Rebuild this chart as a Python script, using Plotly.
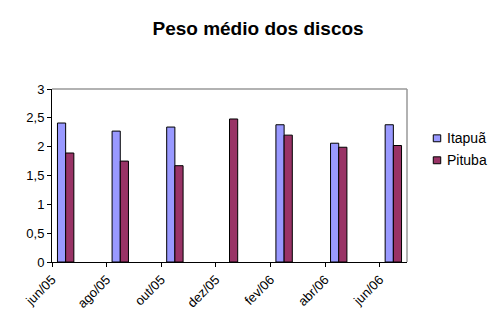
import plotly.graph_objects as go

# Bimonthly sampling dates (monthly date axis, one slot per month)
meses = ["jun/05", "ago/05", "out/05", "dez/05", "fev/06", "abr/06", "jun/06"]
itapua = [2.41, 2.27, 2.34, None, 2.38, 2.06, 2.38]
pituba = [1.89, 1.75, 1.67, 2.48, 2.20, 1.99, 2.02]
series_names = ["Itapuã", "Pituba"]
series_colors = ["#9999FF", "#993366"]
y_ticks = [0, 0.5, 1, 1.5, 2, 2.5, 3]

# every sample sits in the first month slot of its two-month interval
slot = [2 * i for i in range(len(meses))]
bar_w = 0.30

FONT = "Liberation Sans, Arial, sans-serif"

fig = go.Figure()
for name, vals, color, off in zip(series_names, [itapua, pituba], series_colors, [-bar_w, 0.0]):
    fig.add_trace(go.Bar(
        x=slot, y=vals, name=name, width=bar_w, offset=off,
        marker=dict(color=color, line=dict(color="black", width=1)),
        showlegend=False,
    ))

# legend drawn as small swatches with labels
for k, (name, color) in enumerate(zip(series_names, series_colors)):
    y0 = 0.695 - k * 0.127
    fig.add_shape(type="rect", xref="paper", yref="paper",
                  x0=1.074, x1=1.095, y0=y0, y1=y0 + 0.04,
                  fillcolor=color, line=dict(color="black", width=1))
    fig.add_annotation(xref="paper", yref="paper", x=1.106, y=y0 + 0.02,
                       text=name, showarrow=False, xanchor="left", yanchor="middle",
                       font=dict(family=FONT, size=14, color="black"))

# plot-area frame on top and right
fig.add_shape(type="line", xref="paper", yref="paper", x0=0, x1=1, y0=1, y1=1,
              line=dict(color="#999999", width=1.5))
fig.add_shape(type="line", xref="paper", yref="paper", x0=1, x1=1, y0=0, y1=1,
              line=dict(color="#999999", width=1.5))

fig.update_layout(
    width=504, height=333,
    margin=dict(l=52, r=97, t=89, b=71),
    paper_bgcolor="white", plot_bgcolor="white",
    separators=",.",
    title=dict(text="<b>Peso médio dos discos</b>", x=0.512, xanchor="center",
               y=0.915, yanchor="middle",
               font=dict(family=FONT, size=19, color="black")),
    xaxis=dict(
        range=[-0.5, 12.5],
        tickvals=[s - 0.5 for s in slot], ticktext=meses,
        tickangle=-45, ticks="outside", ticklen=4, tickcolor="black",
        showline=True, linecolor="black", linewidth=1,
        showgrid=False, zeroline=False,
        tickfont=dict(family=FONT, size=13, color="black"),
    ),
    yaxis=dict(
        range=[0, 3], tickvals=y_ticks,
        ticks="outside", ticklen=4, tickcolor="black",
        showline=True, linecolor="black", linewidth=1,
        showgrid=False, zeroline=False,
        tickfont=dict(family=FONT, size=13, color="black"),
    ),
)

fig.write_html("out.html")
